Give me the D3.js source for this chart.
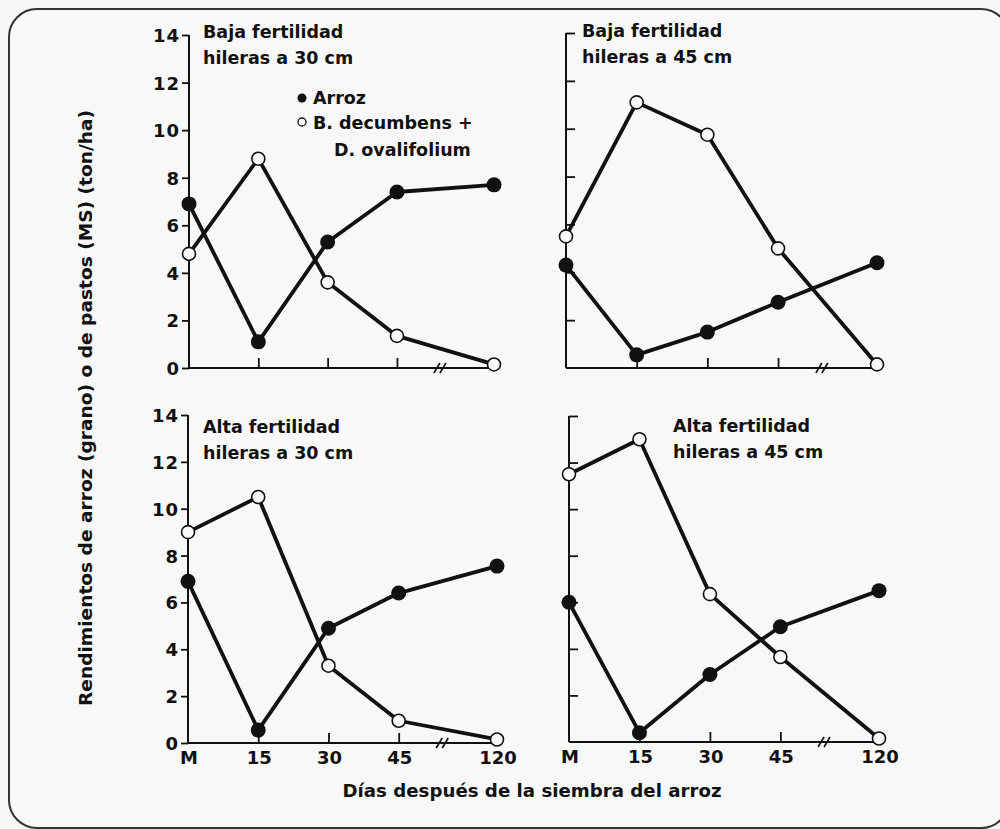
<!DOCTYPE html>
<html>
<head>
<meta charset="utf-8">
<script src="https://cdn.jsdelivr.net/npm/d3@7"></script>
<style>
  html, body { margin: 0; padding: 0; background: #f7f7f7; }
  svg { display: block; }
  text { font-family: "DejaVu Sans", "Liberation Sans", Arial, sans-serif; font-weight: bold; fill: #111; }
</style>
</head>
<body>
<svg id="chart" width="1000" height="829"></svg>
<script>
// ---- data ----
const dayLabels = ["M", "15", "30", "45", "120"];
const dayPositions = [0, 1, 2, 3, 4.4]; // broken axis: 45 -> 120 drawn after a break
const yTicks = [0, 2, 4, 6, 8, 10, 12, 14];

const arrozBaja30 = [6.9, 1.1, 5.3, 7.4, 7.7];
const pastosBaja30 = [4.8, 8.8, 3.6, 1.35, 0.15];
const arrozBaja45 = [4.3, 0.55, 1.5, 2.75, 4.4];
const pastosBaja45 = [5.5, 11.1, 9.75, 5.0, 0.15];
const arrozAlta30 = [6.9, 0.55, 4.9, 6.4, 7.55];
const pastosAlta30 = [9.0, 10.5, 3.3, 0.95, 0.15];
const arrozAlta45 = [6.0, 0.4, 2.9, 4.95, 6.5];
const pastosAlta45 = [11.5, 13.0, 6.35, 3.65, 0.15];

const titleBaja30 = ["Baja fertilidad", "hileras a 30 cm"];
const titleBaja45 = ["Baja fertilidad", "hileras a 45 cm"];
const titleAlta30 = ["Alta fertilidad", "hileras a 30 cm"];
const titleAlta45 = ["Alta fertilidad", "hileras a 45 cm"];

const legendLabels = ["Arroz", "B. decumbens +", "D. ovalifolium"];
const yTitle = "Rendimientos de arroz (grano) o de pastos (MS) (ton/ha)";
const xTitle = "Días después de la siembra del arroz";

// ---- layout ----
const panels = [
  { arroz: arrozBaja30, pastos: pastosBaja30, title: titleBaja30, x0: 189, x1: 494, yb: 368, yt: 35, left: true, bottom: false, tx: 203, ty: 38 },
  { arroz: arrozBaja45, pastos: pastosBaja45, title: titleBaja45, x0: 566, x1: 877, yb: 368, yt: 33, left: false, bottom: false, tx: 582, ty: 37 },
  { arroz: arrozAlta30, pastos: pastosAlta30, title: titleAlta30, x0: 188, x1: 497, yb: 743, yt: 415, left: true, bottom: true, tx: 203, ty: 433 },
  { arroz: arrozAlta45, pastos: pastosAlta45, title: titleAlta45, x0: 569, x1: 879, yb: 742, yt: 416, left: false, bottom: true, tx: 673, ty: 432 }
];

const svg = d3.select("#chart");
const ink = "#111";
const font = "'DejaVu Sans', 'Liberation Sans', Arial, sans-serif";

// background + rounded frame
svg.append("rect").attr("x", 0).attr("y", 0).attr("width", 1000).attr("height", 829).attr("fill", "#f7f7f7");
svg.append("rect")
  .attr("x", 9).attr("y", 9).attr("width", 1000).attr("height", 819)
  .attr("rx", 28).attr("ry", 28)
  .attr("fill", "#f8f8f8").attr("stroke", "#333").attr("stroke-width", 2);

panels.forEach(p => {
  const g = svg.append("g");
  const x = d3.scaleLinear().domain([0, 4.4]).range([p.x0, p.x1]);
  const y = d3.scaleLinear().domain([0, 14]).range([p.yb, p.yt]);

  // y axis
  const yAxis = p.left
    ? d3.axisLeft(y).tickValues(yTicks).tickSize(7).tickPadding(2)
    : d3.axisRight(y).tickValues(yTicks.filter(v => v > 0)).tickSize(9).tickFormat("");
  const ya = g.append("g").attr("transform", `translate(${p.x0},0)`).call(yAxis);
  ya.select(".domain").remove();
  ya.selectAll(".tick line").attr("stroke", ink).attr("stroke-width", 1.8);
  ya.selectAll(".tick text").attr("font-size", 18).attr("fill", ink)
    .attr("font-family", font).attr("font-weight", "bold")
    .attr("letter-spacing", 1).attr("dy", "0.36em");
  g.append("line").attr("x1", p.x0).attr("x2", p.x0).attr("y1", y(14)).attr("y2", y(0))
    .attr("stroke", ink).attr("stroke-width", 2);

  // x axis
  g.append("line").attr("x1", x(0)).attr("x2", x(4.4)).attr("y1", y(0)).attr("y2", y(0))
    .attr("stroke", ink).attr("stroke-width", 2);
  const xAxis = d3.axisTop(x).tickValues(dayPositions.slice(1, 4)).tickSize(10).tickFormat("");
  const xa = g.append("g").attr("transform", `translate(0,${y(0)})`).call(xAxis);
  xa.select(".domain").remove();
  xa.selectAll(".tick line").attr("stroke", ink).attr("stroke-width", 1.8);

  // break marks
  const bx = x(3.62), by = y(0);
  [-3, 3].forEach(off => {
    g.append("line")
      .attr("x1", bx + off - 3).attr("y1", by + 5)
      .attr("x2", bx + off + 3).attr("y2", by - 5)
      .attr("stroke", ink).attr("stroke-width", 1.6);
  });

  if (p.bottom) {
    g.selectAll(".xlab").data(dayLabels).enter().append("text")
      .attr("x", (d, i) => x(dayPositions[i]) + 1)
      .attr("y", y(0) + 21)
      .attr("text-anchor", "middle")
      .attr("font-size", 18)
      .text(d => d);
  }

  // lines
  const line = d3.line().x((d, i) => x(dayPositions[i])).y(d => y(d));
  [p.pastos, p.arroz].forEach(series => {
    g.append("path").datum(series).attr("d", line)
      .attr("fill", "none").attr("stroke", ink).attr("stroke-width", 3.8)
      .attr("stroke-linejoin", "round");
  });

  // markers
  g.selectAll(".arroz").data(p.arroz).enter().append("circle")
    .attr("cx", (d, i) => x(dayPositions[i])).attr("cy", d => y(d))
    .attr("r", 7.5).attr("fill", ink);
  g.selectAll(".pastos").data(p.pastos).enter().append("circle")
    .attr("cx", (d, i) => x(dayPositions[i])).attr("cy", d => y(d))
    .attr("r", 6.5).attr("fill", "#fafafa").attr("stroke", ink).attr("stroke-width", 1.6);

  // title
  g.selectAll(".ttl").data(p.title).enter().append("text")
    .attr("x", p.tx).attr("y", (d, i) => p.ty + i * 26)
    .attr("font-size", 17.5)
    .text(d => d);
});

// legend (top-left panel)
const lg = svg.append("g");
lg.append("circle").attr("cx", 302).attr("cy", 98).attr("r", 4.5).attr("fill", ink);
lg.append("circle").attr("cx", 302).attr("cy", 122).attr("r", 4).attr("fill", "#fafafa").attr("stroke", ink).attr("stroke-width", 1.3);
lg.append("text").attr("x", 313).attr("y", 104).attr("font-size", 17.5).text(legendLabels[0]);
lg.append("text").attr("x", 313).attr("y", 129).attr("font-size", 17.5).text(legendLabels[1]);
lg.append("text").attr("x", 334).attr("y", 156).attr("font-size", 17.5).text(legendLabels[2]);

// axis titles
svg.append("text")
  .attr("transform", "translate(92,408) rotate(-90)")
  .attr("text-anchor", "middle").attr("font-size", 17)
  .attr("textLength", 596).attr("lengthAdjust", "spacingAndGlyphs")
  .text(yTitle);
svg.append("text")
  .attr("x", 532).attr("y", 797)
  .attr("text-anchor", "middle").attr("font-size", 17.5)
  .attr("textLength", 379).attr("lengthAdjust", "spacingAndGlyphs")
  .text(xTitle);
</script>
</body>
</html>
